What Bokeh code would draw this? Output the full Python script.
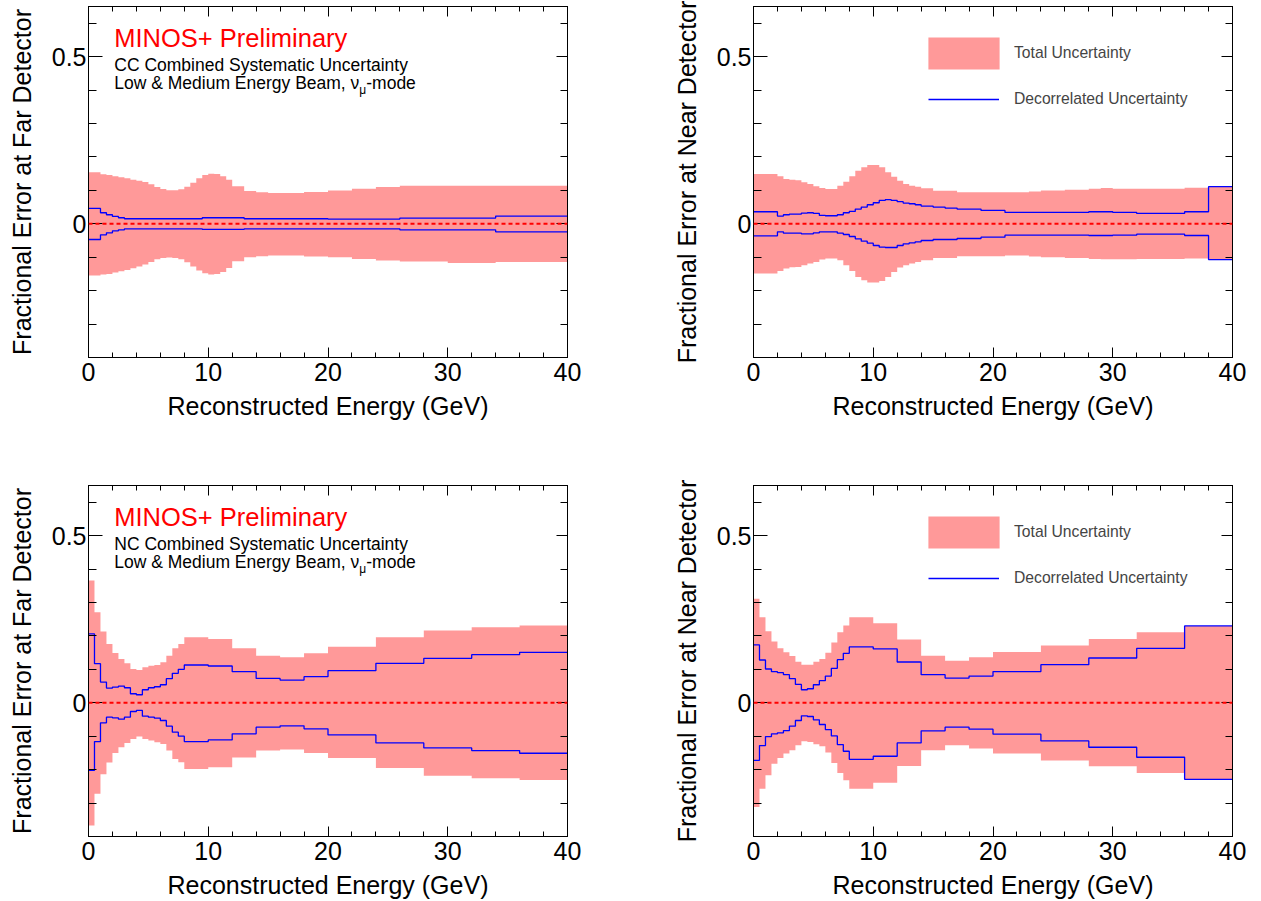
from bokeh.plotting import figure
from bokeh.layouts import gridplot
from bokeh.models import FixedTicker, LinearAxis, Span, Label, Legend, LegendItem, Range1d
from bokeh.embed import file_html
from bokeh.resources import INLINE

FONT = "Liberation Sans"
BAND = "#ff9999"
BLUE = "#0000ff"

# ---------------- data ----------------
x_major = [0, 10, 20, 30, 40]
x_minor = [0, 2, 4, 6, 8, 10, 12, 14, 16, 18, 20, 22, 24, 26, 28, 30, 32, 34, 36, 38, 40]
y_major = [0, 0.5]
y_minor = [-0.3, -0.2, -0.1, 0, 0.1, 0.2, 0.3, 0.4, 0.5, 0.6]
y_tick_labels = {0: "0", 0.5: "0.5"}

# Far detector, CC
fd_cc_edges = [0, 1, 1.5, 2, 2.5, 3, 3.5, 4, 4.5, 5, 5.5, 6, 6.5, 7, 7.5, 8, 8.5, 9, 9.5, 10,
               10.5, 11, 11.5, 12, 13, 14, 15, 16, 18, 20, 22, 24, 26, 30, 34, 40]
fd_cc_tot_hi = [0.154, 0.148, 0.146, 0.142, 0.139, 0.136, 0.132, 0.129, 0.125, 0.118,
                0.110, 0.104, 0.100, 0.100, 0.103, 0.111, 0.123, 0.136, 0.146, 0.150,
                0.149, 0.142, 0.132, 0.112, 0.098, 0.094, 0.092, 0.092, 0.095, 0.0995,
                0.105, 0.110, 0.114, 0.114, 0.114]
fd_cc_tot_lo = [-0.155, -0.152, -0.150, -0.146, -0.142, -0.138, -0.133, -0.128, -0.122, -0.114,
                -0.106, -0.102, -0.101, -0.102, -0.106, -0.115, -0.128, -0.140, -0.148, -0.152,
                -0.150, -0.144, -0.132, -0.112, -0.100, -0.097, -0.095, -0.095, -0.098, -0.100,
                -0.105, -0.110, -0.113, -0.117, -0.114]
fd_cc_dec_hi = [0.046, 0.033, 0.027, 0.022, 0.018, 0.015, 0.015, 0.015, 0.015, 0.015,
                0.015, 0.015, 0.015, 0.015, 0.015, 0.015, 0.015, 0.015, 0.018, 0.018,
                0.018, 0.018, 0.018, 0.018, 0.015, 0.015, 0.015, 0.015, 0.015, 0.014,
                0.014, 0.014, 0.017, 0.017, 0.023]
fd_cc_dec_lo = [-0.047, -0.033, -0.027, -0.021, -0.018, -0.015, -0.015, -0.015, -0.015, -0.015,
                -0.015, -0.015, -0.015, -0.015, -0.015, -0.015, -0.015, -0.015, -0.017, -0.017,
                -0.017, -0.017, -0.017, -0.017, -0.015, -0.015, -0.015, -0.015, -0.015, -0.015,
                -0.015, -0.015, -0.018, -0.018, -0.024]

# Near detector, CC
nd_cc_edges = [0, 2, 2.5, 3, 3.5, 4, 4.5, 5, 5.5, 6, 6.5, 7, 7.5, 8, 8.5, 9, 9.5, 10, 10.5, 11,
               11.5, 12, 12.5, 13, 13.5, 14, 15, 16, 17, 19, 21, 23, 24, 26, 28, 29, 30, 32, 36, 38, 40]
nd_cc_tot_hi = [0.149, 0.142, 0.134, 0.132, 0.130, 0.124, 0.119, 0.112, 0.107, 0.104,
                0.104, 0.114, 0.126, 0.142, 0.159, 0.169, 0.176, 0.176, 0.169, 0.154,
                0.141, 0.129, 0.119, 0.114, 0.111, 0.106, 0.099, 0.099, 0.094, 0.094,
                0.0945, 0.0966, 0.0996, 0.102, 0.105, 0.107, 0.105, 0.105, 0.108, 0.111]
nd_cc_tot_lo = [-0.149, -0.141, -0.134, -0.130, -0.129, -0.124, -0.119, -0.114, -0.107, -0.104,
                -0.104, -0.109, -0.124, -0.141, -0.159, -0.169, -0.176, -0.176, -0.171, -0.159,
                -0.144, -0.131, -0.124, -0.119, -0.114, -0.109, -0.102, -0.102, -0.097, -0.097,
                -0.095, -0.098, -0.100, -0.102, -0.105, -0.106, -0.106, -0.105, -0.104, -0.107]
nd_cc_dec_hi = [0.036, 0.023, 0.027, 0.029, 0.029, 0.032, 0.033, 0.031, 0.025, 0.024,
                0.024, 0.027, 0.033, 0.037, 0.044, 0.050, 0.057, 0.063, 0.070, 0.072,
                0.070, 0.066, 0.062, 0.060, 0.057, 0.053, 0.050, 0.047, 0.044, 0.040,
                0.034, 0.034, 0.034, 0.034, 0.036, 0.036, 0.034, 0.031, 0.036, 0.111]
nd_cc_dec_lo = [-0.036, -0.024, -0.028, -0.028, -0.028, -0.030, -0.030, -0.027, -0.024, -0.024,
                -0.024, -0.028, -0.032, -0.038, -0.045, -0.052, -0.058, -0.065, -0.070, -0.071,
                -0.071, -0.065, -0.060, -0.057, -0.054, -0.050, -0.047, -0.047, -0.044, -0.040,
                -0.034, -0.034, -0.034, -0.034, -0.035, -0.035, -0.034, -0.031, -0.035, -0.107]

# NC binning (both detectors)
nc_edges = [0, 0.5, 1, 1.5, 2, 2.5, 3, 3.5, 4, 4.5, 5, 5.5, 6, 6.5, 7, 7.5, 8,
            10, 12, 14, 16, 18, 20, 24, 28, 32, 36, 40]
fd_nc_tot_hi = [0.366, 0.271, 0.213, 0.176, 0.149, 0.131, 0.118, 0.101, 0.098, 0.106,
                0.111, 0.113, 0.121, 0.141, 0.163, 0.176, 0.196, 0.191, 0.163, 0.141,
                0.136, 0.148, 0.168, 0.196, 0.216, 0.226, 0.231]
fd_nc_tot_lo = [-0.367, -0.272, -0.214, -0.179, -0.150, -0.133, -0.120, -0.108, -0.101, -0.108,
                -0.113, -0.118, -0.123, -0.143, -0.168, -0.178, -0.198, -0.193, -0.164, -0.143,
                -0.140, -0.150, -0.165, -0.195, -0.218, -0.226, -0.231]
fd_nc_dec_hi = [0.206, 0.117, 0.062, 0.044, 0.047, 0.050, 0.045, 0.027, 0.024, 0.039,
                0.045, 0.048, 0.054, 0.072, 0.088, 0.100, 0.113, 0.110, 0.093, 0.073,
                0.068, 0.078, 0.096, 0.118, 0.133, 0.144, 0.151]
fd_nc_dec_lo = [-0.202, -0.116, -0.060, -0.043, -0.045, -0.049, -0.043, -0.026, -0.023, -0.040,
                -0.043, -0.046, -0.053, -0.070, -0.088, -0.100, -0.116, -0.111, -0.093, -0.073,
                -0.069, -0.078, -0.096, -0.120, -0.135, -0.143, -0.151]

nd_nc_tot_hi = [0.311, 0.256, 0.214, 0.183, 0.163, 0.151, 0.140, 0.123, 0.114, 0.114,
                0.123, 0.131, 0.150, 0.180, 0.211, 0.231, 0.256, 0.238, 0.189, 0.141,
                0.126, 0.136, 0.152, 0.171, 0.191, 0.211, 0.230]
nd_nc_tot_lo = [-0.312, -0.257, -0.217, -0.182, -0.165, -0.152, -0.142, -0.127, -0.115, -0.117,
                -0.124, -0.130, -0.149, -0.180, -0.210, -0.232, -0.257, -0.239, -0.189, -0.142,
                -0.127, -0.137, -0.152, -0.173, -0.190, -0.210, -0.229]
nd_nc_dec_hi = [0.173, 0.128, 0.101, 0.093, 0.090, 0.084, 0.072, 0.055, 0.039, 0.042,
                0.054, 0.066, 0.080, 0.103, 0.129, 0.148, 0.167, 0.161, 0.122, 0.084,
                0.074, 0.080, 0.0935, 0.114, 0.134, 0.163, 0.230]
nd_nc_dec_lo = [-0.172, -0.128, -0.101, -0.093, -0.090, -0.083, -0.070, -0.053, -0.039, -0.041,
                -0.051, -0.065, -0.080, -0.099, -0.125, -0.145, -0.169, -0.160, -0.120, -0.084,
                -0.073, -0.079, -0.094, -0.114, -0.133, -0.163, -0.229]

x_title = "Reconstructed Energy (GeV)"
fd_title = "Fractional Error at Far Detector"
nd_title = "Fractional Error at Near Detector"
prelim = "MINOS+ Preliminary"
cc_text = "CC Combined Systematic Uncertainty"
nc_text = "NC Combined Systematic Uncertainty"
beam_text = "Low & Medium Energy Beam, \u03bd"
sub_text = "\u03bc"
mode_text = "-mode"
leg_total = "Total Uncertainty"
leg_decor = "Decorrelated Uncertainty"


def ext(v):
    return list(v) + [v[-1]]


def style_axis(ax, major_in, minor_in):
    ax.major_tick_in = major_in
    ax.major_tick_out = 0
    ax.minor_tick_in = minor_in
    ax.minor_tick_out = 0
    ax.axis_line_color = "black"
    ax.major_tick_line_color = "black"
    ax.minor_tick_line_color = "black"
    ax.major_label_text_font = FONT
    ax.major_label_text_font_size = "25px"
    ax.major_label_text_color = "black"
    ax.axis_label_text_font = FONT
    ax.axis_label_text_font_size = "25px"
    ax.axis_label_text_font_style = "normal"
    ax.axis_label_text_color = "black"


def tick_only_axis(p, ticks, length, side):
    # an axis with no labelled (major) ticks: only inward tick marks
    ax = LinearAxis(ticker=FixedTicker(ticks=[], minor_ticks=ticks),
                    major_tick_in=0, major_tick_out=0,
                    minor_tick_in=length, minor_tick_out=0,
                    axis_line_color="black", minor_tick_line_color="black",
                    major_label_standoff=0, axis_label=None)
    p.add_layout(ax, side)


def text_label(p, x, y, text, size, color="black", xoff=0, yoff=0):
    p.add_layout(Label(x=x, y=y, x_offset=xoff, y_offset=yoff, text=text, text_color=color,
                       text_font=FONT, text_font_size=size, text_baseline="bottom"))


def panel(edges, thi, tlo, dhi, dlo, ytitle, width, height, bl, br, bt, bb, kind):
    p = figure(width=width, height=height, x_range=Range1d(0, 40), y_range=Range1d(-0.4, 0.65),
               output_backend="svg", toolbar_location=None,
               x_axis_label=x_title, y_axis_label=ytitle,
               min_border_left=bl, min_border_right=br, min_border_top=bt, min_border_bottom=bb)
    p.xgrid.visible = False
    p.ygrid.visible = False
    p.outline_line_color = "black"
    p.background_fill_color = "white"

    xb = p.xaxis[0]
    xb.ticker = FixedTicker(ticks=x_major, minor_ticks=x_minor)
    style_axis(xb, 10, 5)
    xb.major_label_standoff = 5
    xb.axis_label_standoff = 8

    yl = p.yaxis[0]
    yl.ticker = FixedTicker(ticks=y_major, minor_ticks=y_minor)
    yl.major_label_overrides = y_tick_labels
    style_axis(yl, 14, 8)
    yl.major_label_standoff = 2
    yl.axis_label_standoff = 13

    tick_only_axis(p, x_major, 10, "above")
    tick_only_axis(p, x_minor, 5, "above")
    tick_only_axis(p, y_major, 11, "right")
    tick_only_axis(p, y_minor, 7, "right")

    band = p.varea_step(x=edges, y1=ext(tlo), y2=ext(thi), step_mode="after",
                        fill_color=BAND, fill_alpha=1.0)
    up = p.step(x=edges, y=ext(dhi), mode="after", line_color=BLUE, line_width=1.3)
    p.step(x=edges, y=ext(dlo), mode="after", line_color=BLUE, line_width=1.3)

    p.add_layout(Span(location=0, dimension="width", line_color="red",
                      line_dash="4 3", line_width=2))

    if kind in ("cc", "nc"):
        text_label(p, 2.15, 0.525, prelim, "25.5px", color="red", yoff=-3.5)
        text_label(p, 2.15, 0.455, cc_text if kind == "cc" else nc_text, "17.5px", yoff=-3)
        text_label(p, 2.15, 0.400, beam_text, "17.5px", yoff=-3)
        text_label(p, 2.15, 0.400, sub_text, "12px", xoff=245, yoff=-7)
        text_label(p, 2.15, 0.400, mode_text, "17.5px", xoff=252, yoff=-3)
    else:
        leg1 = Legend(items=[LegendItem(label=leg_total, renderers=[band])],
                      location=(166, 284), glyph_width=89, glyph_height=40, label_standoff=6,
                      padding=0, margin=0, border_line_color=None, background_fill_alpha=0,
                      label_text_font=FONT, label_text_font_size="15.7px")
        leg2 = Legend(items=[LegendItem(label=leg_decor, renderers=[up])],
                      location=(175, 248), glyph_width=71, glyph_height=20, label_standoff=15,
                      padding=0, margin=0, border_line_color=None, background_fill_alpha=0,
                      label_text_font=FONT, label_text_font_size="15.7px")
        p.add_layout(leg1)
        p.add_layout(leg2)
    return p


p1 = panel(fd_cc_edges, fd_cc_tot_hi, fd_cc_tot_lo, fd_cc_dec_hi, fd_cc_dec_lo, fd_title,
           630, 450, 88, 63, 6, 93, "cc")
p2 = panel(nd_cc_edges, nd_cc_tot_hi, nd_cc_tot_lo, nd_cc_dec_hi, nd_cc_dec_lo, nd_title,
           631, 450, 123, 29, 6, 93, "leg")
p3 = panel(nc_edges, fd_nc_tot_hi, fd_nc_tot_lo, fd_nc_dec_hi, fd_nc_dec_lo, fd_title,
           630, 451, 88, 63, 35, 65, "nc")
p4 = panel(nc_edges, nd_nc_tot_hi, nd_nc_tot_lo, nd_nc_dec_hi, nd_nc_dec_lo, nd_title,
           631, 451, 123, 29, 35, 65, "leg")

grid = gridplot([[p1, p2], [p3, p4]], toolbar_location=None)

open("out.html", "w").write(file_html(grid, INLINE))
